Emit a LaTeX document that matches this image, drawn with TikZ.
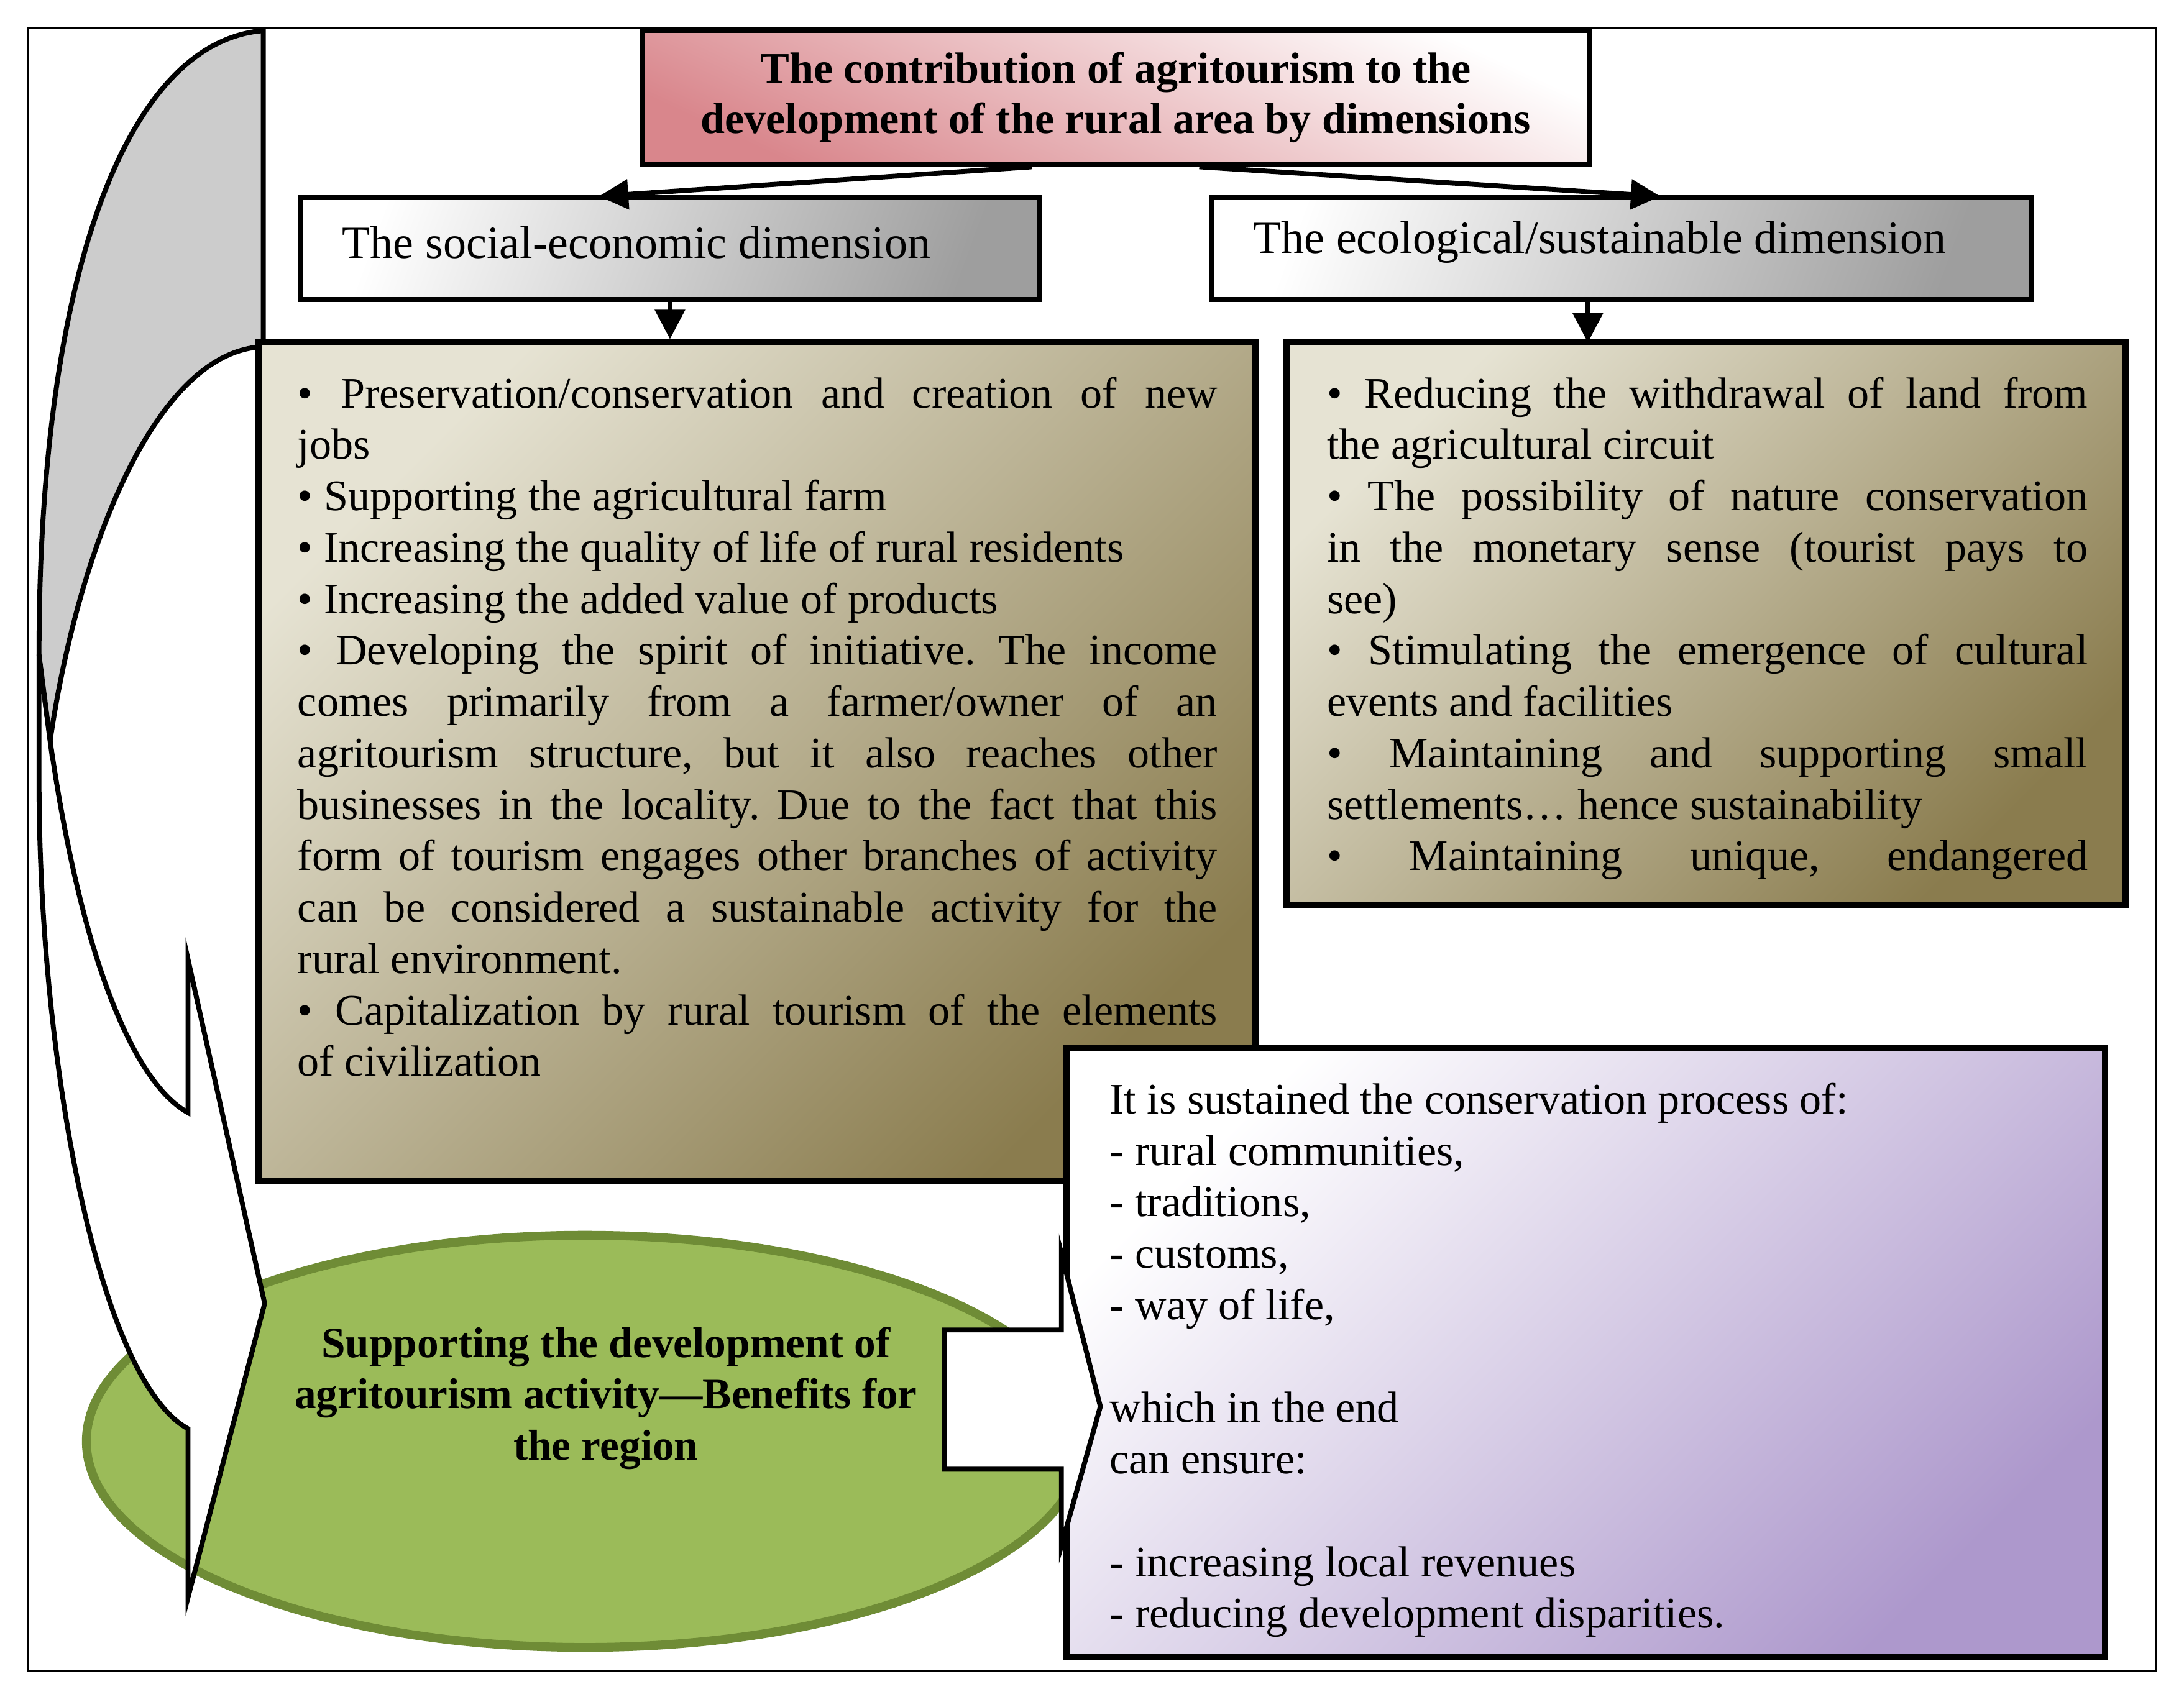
\documentclass[tikz,border=0pt]{standalone}
\usepackage{fontspec}
\setmainfont{Liberation Serif}
\usetikzlibrary{arrows.meta}
\definecolor{olivedark}{HTML}{8A7C4E}
\definecolor{olivelight}{HTML}{E6E3D3}
\definecolor{titlered}{HTML}{D9868C}
\definecolor{purp}{HTML}{AD98CC}
\definecolor{grn}{HTML}{9BBB59}
\definecolor{grndark}{HTML}{6F8C36}
\frenchspacing
\begin{document}
\begin{tikzpicture}[x=0.01cm,y=-0.01cm,
  boxs/.style={draw=black,line width=1.3pt,inner sep=0pt},
  dimbox/.style={draw=black,line width=1pt,inner sep=0pt,top color=white,bottom color=black!38,shading angle=70,minimum height=0.73cm},
  txt/.style={inner sep=0pt,anchor=north west,align=justify,font=\fontsize{8.9}{10.5}\selectfont},
  arr/.style={line width=1pt,-{Triangle[length=6pt,width=6pt]}}]
\useasboundingbox (0,0) rectangle (1568,1222);
\draw[line width=0.5pt] (20,20) rectangle (1548,1200);
% ellipse
\draw[fill=grn,draw=grndark,line width=1.8pt] (420,1035) ellipse [x radius=358, y radius=148];
% curved arrow: white part
\draw[fill=white,line width=1pt,line join=miter]
 (28,470) -- (28,560) .. controls (28,760) and (70,990) .. (135,1026)
 -- (135,1147) -- (190,936) -- (135,689) -- (135,799)
 .. controls (100,780) and (60,700) .. (36,532) -- cycle;
% gray band
\draw[fill=black!20,line width=1pt]
 (189,22) .. controls (90,30) and (28,200) .. (28,470) -- (36,532)
 .. controls (55,400) and (110,252) .. (189,249) -- cycle;
% title
\node[boxs,line width=1pt,top color=white,bottom color=titlered,shading angle=-25,minimum width=6.8cm,minimum height=0.96cm,align=center,font=\fontsize{8.9}{10.2}\selectfont\bfseries] (title) at (801,70) {The contribution of agritourism to the\\development of the rural area by dimensions};
% dimension boxes
\node[dimbox,minimum width=5.3cm] (soc) at (481,178.5) {};
\node[anchor=west,inner sep=0pt,font=\fontsize{9.4}{11}\selectfont] (soct) at (245,174) {The social-economic dimension};
\node[dimbox,minimum width=5.88cm] (eco) at (1164,178.5) {};
\node[anchor=west,inner sep=0pt,font=\fontsize{9.4}{11}\selectfont] (ecot) at (899,174) {The ecological/sustainable dimension};
\draw[arr] ([xshift=-0.6cm]title.south) -- (430,141);
\draw[arr] ([xshift=0.6cm]title.south) -- (1192,141);
% content boxes
\node[boxs,top color=olivelight,bottom color=olivedark,shading angle=45,minimum width=7.15cm,minimum height=6.02cm] (lbox) at (543.5,547) {};
\node[boxs,top color=olivelight,bottom color=olivedark,shading angle=45,minimum width=6.02cm,minimum height=4.04cm] (rbox) at (1225,448) {};
\draw[arr] (soc.south) -- (soc.south |- lbox.north);
\draw[arr] (1140,215) -- (1140,246);
\node[txt,text width=6.6cm] (ltxt) at (213,270) {%
• Preservation/conservation and creation of new\linebreak
jobs\\
• Supporting the agricultural farm\\
• Increasing the quality of life of rural residents\\
• Increasing the added value of products\\
• Developing the spirit of initiative. The income\linebreak
comes primarily from a farmer/owner of an\linebreak
agritourism structure, but it also reaches other\linebreak
businesses in the locality. Due to the fact that this\linebreak
form of tourism engages other branches of activity\linebreak
can be considered a sustainable activity for the\linebreak
rural environment.\\
• Capitalization by rural tourism of the elements\linebreak
of civilization};
\node[txt,text width=5.46cm] (rtxt) at (952,270) {%
• Reducing the withdrawal of land from\linebreak
the agricultural circuit\\
• The possibility of nature conservation\linebreak
in the monetary sense (tourist pays to\linebreak
see)\\
• Stimulating the emergence of cultural\linebreak
events and facilities\\
• Maintaining and supporting small\linebreak
settlements… hence sustainability\\
•\hfill Maintaining\hfill unique,\hfill endangered};
% purple box
\node[boxs,top color=white,bottom color=purp,shading angle=45,minimum width=7.45cm,minimum height=4.37cm] (pbox) at (1138.5,971.5) {};
\node[txt,align=left,font=\fontsize{8.9}{10.5}\selectfont] (ptxt) at (796,777) {It is sustained the conservation process of:\\
- rural communities,\\
- traditions,\\
- customs,\\
- way of life,\\[10.5pt]
which in the end\\
can ensure:\\[10.5pt]
- increasing local revenues\\
- reducing development disparities.};
% ellipse text
\node[inner sep=0pt,align=center,font=\fontsize{8.8}{10.5}\selectfont\bfseries] (etxt) at (435,1004) {Supporting the development of\\agritourism activity—Benefits for\\the region};
% notch arrow
\draw[fill=white,line width=1pt,line join=miter] (678,955) -- (762,955) -- (762,900) -- (790,1010) -- (762,1110) -- (762,1055) -- (678,1055) -- cycle;
\end{tikzpicture}
\end{document}
